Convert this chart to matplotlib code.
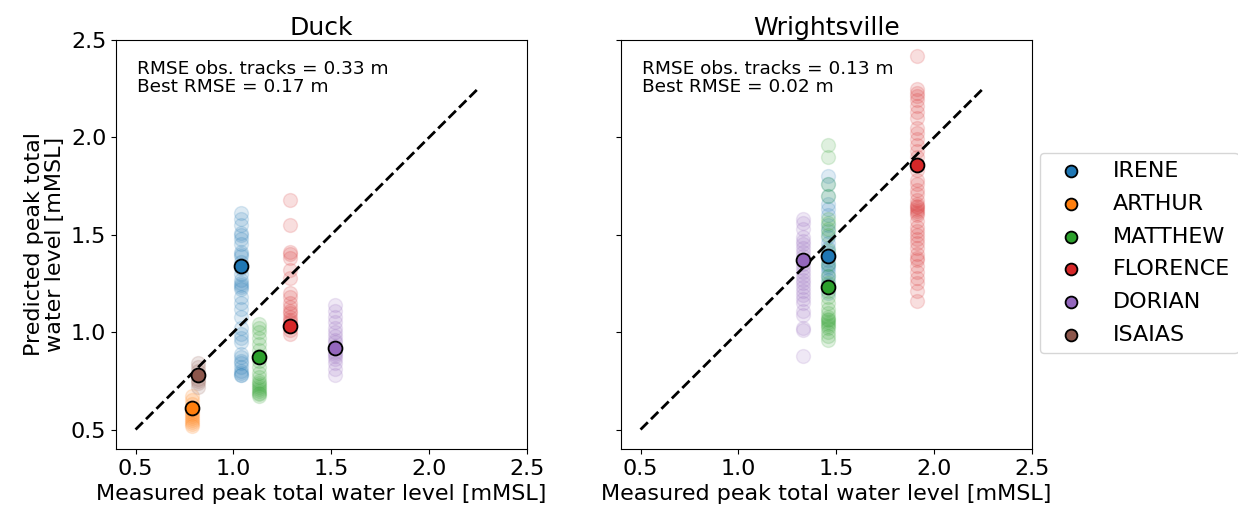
import matplotlib.pyplot as plt

storms = ["IRENE", "ARTHUR", "MATTHEW", "FLORENCE", "DORIAN", "ISAIAS"]
colors = ["C0", "C1", "C2", "C3", "C4", "C5"]

# Duck: measured peak, observed-track prediction and ensemble predictions
duck_meas = {"IRENE": 1.04, "ARTHUR": 0.79, "MATTHEW": 1.13, "FLORENCE": 1.29, "DORIAN": 1.52, "ISAIAS": 0.82}
duck_obs = {"IRENE": 1.34, "ARTHUR": 0.61, "MATTHEW": 0.87, "FLORENCE": 1.03, "DORIAN": 0.92, "ISAIAS": 0.78}
duck_ens = {
    "IRENE": [0.78, 0.78, 0.79, 0.80, 0.82, 0.84, 0.85, 0.87, 0.89, 0.95, 0.97, 0.99, 1.02, 1.08,
              1.12, 1.15, 1.18, 1.22, 1.23, 1.24, 1.25, 1.27, 1.30, 1.33, 1.36, 1.39, 1.40, 1.41,
              1.45, 1.48, 1.50, 1.51, 1.55, 1.58, 1.61],
    "ARTHUR": [0.52, 0.53, 0.54, 0.55, 0.56, 0.57, 0.58, 0.59, 0.60, 0.61, 0.63, 0.65, 0.67],
    "MATTHEW": [0.67, 0.68, 0.69, 0.70, 0.71, 0.72, 0.73, 0.74, 0.75, 0.77, 0.79, 0.82, 0.85, 0.88,
                0.91, 0.94, 0.97, 1.00, 1.02, 1.04],
    "FLORENCE": [0.99, 1.01, 1.03, 1.05, 1.06, 1.08, 1.10, 1.11, 1.13, 1.15, 1.18, 1.20, 1.28,
                 1.32, 1.38, 1.40, 1.41, 1.55, 1.68],
    "DORIAN": [0.78, 0.81, 0.84, 0.86, 0.88, 0.89, 0.90, 0.92, 0.93, 0.95, 0.96, 0.98, 1.00, 1.02,
               1.05, 1.08, 1.11, 1.14],
    "ISAIAS": [0.72, 0.74, 0.75, 0.76, 0.78, 0.80, 0.82, 0.84],
}

# Wrightsville (no ARTHUR / ISAIAS)
wri_meas = {"IRENE": 1.46, "MATTHEW": 1.46, "FLORENCE": 1.91, "DORIAN": 1.33}
wri_obs = {"IRENE": 1.39, "MATTHEW": 1.23, "FLORENCE": 1.86, "DORIAN": 1.37}
wri_ens = {
    "IRENE": [1.20, 1.24, 1.27, 1.29, 1.31, 1.33, 1.34, 1.35, 1.37, 1.39, 1.41, 1.43, 1.46, 1.49,
              1.52, 1.55, 1.60, 1.63, 1.66, 1.70, 1.76, 1.80],
    "MATTHEW": [0.96, 0.98, 1.00, 1.02, 1.03, 1.04, 1.05, 1.06, 1.07, 1.08, 1.10, 1.12, 1.15, 1.18,
                1.21, 1.25, 1.29, 1.35, 1.42, 1.50, 1.53, 1.56, 1.58, 1.70, 1.76, 1.90, 1.96],
    "FLORENCE": [1.16, 1.21, 1.25, 1.28, 1.31, 1.34, 1.37, 1.38, 1.40, 1.43, 1.46, 1.48, 1.50, 1.52,
                 1.54, 1.57, 1.60, 1.61, 1.62, 1.63, 1.64, 1.65, 1.66, 1.68, 1.71, 1.73, 1.76, 1.78,
                 1.83, 1.90, 1.93, 1.96, 1.99, 2.02, 2.05, 2.10, 2.13, 2.16, 2.19, 2.21, 2.23, 2.25,
                 2.42],
    "DORIAN": [0.88, 1.01, 1.02, 1.09, 1.11, 1.15, 1.17, 1.19, 1.21, 1.23, 1.25, 1.27, 1.29, 1.31,
               1.33, 1.35, 1.37, 1.39, 1.41, 1.43, 1.45, 1.47, 1.49, 1.53, 1.56, 1.58],
}

rmse_text = {"Duck": "RMSE obs. tracks = 0.33 m\nBest RMSE = 0.17 m",
             "Wrightsville": "RMSE obs. tracks = 0.13 m\nBest RMSE = 0.02 m"}
ticks = [0.5, 1.0, 1.5, 2.0, 2.5]

fig = plt.figure(figsize=(12.38, 5.12), dpi=100)
ax1 = fig.add_axes([0.0937, 0.123, 0.332, 0.799])
ax2 = fig.add_axes([0.5016, 0.123, 0.332, 0.799], sharey=ax1)

sites = [("Duck", ax1, duck_meas, duck_obs, duck_ens),
         ("Wrightsville", ax2, wri_meas, wri_obs, wri_ens)]

for name, ax, meas, obs, ens in sites:
    # ensemble members first, faded
    for storm, c in zip(storms, colors):
        if storm not in ens:
            continue
        vals = ens[storm]
        ax.scatter([meas[storm]] * len(vals), vals, s=100, color=c, alpha=0.15)
    ax.plot([0.5, 2.25], [0.5, 2.25], "k--", lw=2)
    # observed-track runs on top
    for storm, c in zip(storms, colors):
        if storm not in obs:
            continue
        ax.scatter(meas[storm], obs[storm], s=100, color=c, edgecolor="k", lw=1.3,
                   zorder=5, label=storm)
    ax.text(0.05, 0.95, rmse_text[name], transform=ax.transAxes, va="top", ha="left",
            fontsize=13.3, linespacing=1.0)
    ax.set_title(name, fontsize=18, pad=3)
    ax.set_xlim(0.4, 2.5)
    ax.set_ylim(0.4, 2.5)
    ax.set_xticks(ticks)
    ax.set_yticks(ticks)
    ax.tick_params(labelsize=16)
    ax.set_xlabel("Measured peak total water level [mMSL]", fontsize=16)

ax1.set_ylabel("Predicted peak total\nwater level [mMSL]", fontsize=16, linespacing=1.05)
plt.setp(ax2.get_yticklabels(), visible=False)

# one legend with every storm, taken from Duck
handles, labels = ax1.get_legend_handles_labels()
fig.legend(handles, labels, loc="center left", bbox_to_anchor=(0.840, 0.506),
           borderaxespad=0, fontsize=16, markerscale=0.85, handlelength=2.0,
           handletextpad=0.9, borderpad=0.38, labelspacing=0.57)

fig.savefig("out.png", dpi=100)
